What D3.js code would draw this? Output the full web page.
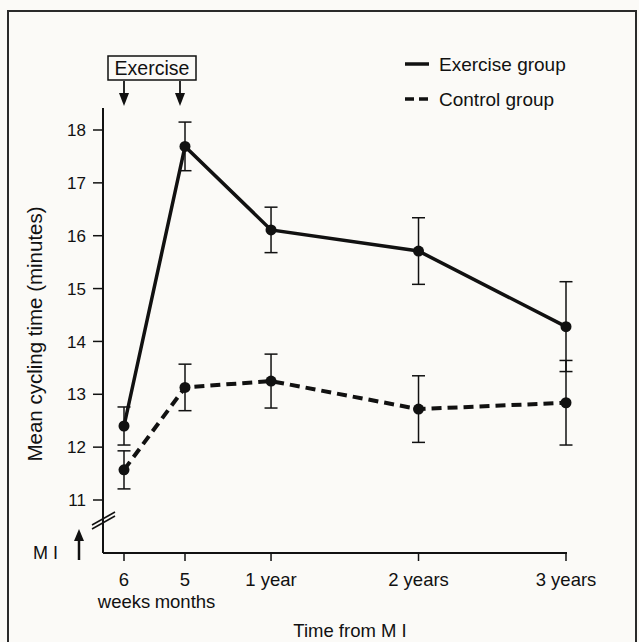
<!DOCTYPE html>
<html>
<head>
<meta charset="utf-8">
<script src="https://cdn.jsdelivr.net/npm/d3@7"></script>
<style>
  html, body { margin: 0; padding: 0; background: #fbfaf7; }
  text { font-family: "Liberation Sans", Arial, sans-serif; fill: #111; }
</style>
</head>
<body>
<div id="chart"></div>
<script>
// data
const tickLabels = ["6", "5", "1 year", "2 years", "3 years"];
const subLabels = ["weeks", "months", "", "", ""];
const timeMonths = [1.5, 5, 12, 24, 36];
const exerciseMean = [12.40, 17.69, 16.11, 15.71, 14.28];
const exerciseErr = [0.36, 0.46, 0.43, 0.63, 0.85];
const controlMean = [11.57, 13.13, 13.25, 12.72, 12.84];
const controlErr = [0.36, 0.44, 0.51, 0.63, 0.80];
const yTicks = [11, 12, 13, 14, 15, 16, 17, 18];

const W = 639, H = 642;
const axisX = 103, axisY = 553, axisTop = 108;

const svg = d3.select("#chart").append("svg")
  .attr("width", W).attr("height", H);

// frame
svg.append("rect")
  .attr("x", 8).attr("y", 11).attr("width", 628).attr("height", 700)
  .attr("fill", "none").attr("stroke", "#2a2a2a").attr("stroke-width", 2);

// x is piecewise: the first interval is stretched in the original
const x = d3.scaleLinear()
  .domain([timeMonths[0], timeMonths[1], timeMonths[4]])
  .range([124, 185, 566]);
const y = d3.scaleLinear().domain([11, 18]).range([500, 130]);

// axes
svg.append("line").attr("x1", axisX).attr("x2", axisX)
  .attr("y1", axisTop).attr("y2", axisY)
  .attr("stroke", "#111").attr("stroke-width", 2);
svg.append("line").attr("x1", axisX).attr("x2", x(timeMonths[4]) + 1)
  .attr("y1", axisY).attr("y2", axisY)
  .attr("stroke", "#111").attr("stroke-width", 2);

// y ticks
const yt = svg.append("g").selectAll("g").data(yTicks).join("g")
  .attr("transform", d => `translate(0,${y(d)})`);
yt.append("line").attr("x1", axisX - 10).attr("x2", axisX)
  .attr("stroke", "#111").attr("stroke-width", 1.5);
yt.append("text").attr("x", axisX - 17).attr("dy", "0.36em")
  .attr("text-anchor", "end").style("font-size", "17px").text(d => d);

// axis break
[0, -4].forEach(off => {
  svg.append("line")
    .attr("x1", 92).attr("y1", 529 + off).attr("x2", 115).attr("y2", 516 + off)
    .attr("stroke", "#111").attr("stroke-width", 1.5);
});

// x ticks
const xt = svg.append("g").selectAll("g").data(timeMonths).join("g")
  .attr("transform", d => `translate(${x(d)},0)`);
xt.append("line").attr("y1", axisY).attr("y2", axisY + 8)
  .attr("stroke", "#111").attr("stroke-width", 1.5);
xt.append("text").attr("y", 586).attr("text-anchor", "middle")
  .style("font-size", "18.5px").text((d, i) => tickLabels[i]);
xt.append("text").attr("y", 608).attr("text-anchor", "middle")
  .style("font-size", "18.5px").text((d, i) => subLabels[i]);

// axis titles
svg.append("text")
  .attr("transform", `translate(42,334) rotate(-90)`)
  .attr("text-anchor", "middle").style("font-size", "20.5px")
  .text("Mean cycling time (minutes)");
svg.append("text").attr("x", 350).attr("y", 637)
  .attr("text-anchor", "middle").style("font-size", "18.5px")
  .text("Time from M I");

// M I marker
svg.append("text").attr("x", 33).attr("y", 559).style("font-size", "18px").text("M I");
svg.append("line").attr("x1", 79).attr("x2", 79).attr("y1", 560).attr("y2", 538)
  .attr("stroke", "#111").attr("stroke-width", 2.5);
svg.append("path").attr("d", "M79,529 L74,541 L84,541 Z").attr("fill", "#111");

// Exercise box with arrows
svg.append("rect").attr("x", 108).attr("y", 56).attr("width", 88).attr("height", 24)
  .attr("fill", "none").attr("stroke", "#111").attr("stroke-width", 1.5);
svg.append("text").attr("x", 152).attr("y", 75).attr("text-anchor", "middle")
  .style("font-size", "19.5px").text("Exercise");
[x(timeMonths[0]), x(timeMonths[1]) - 5].forEach(ax => {
  svg.append("line").attr("x1", ax).attr("x2", ax).attr("y1", 81).attr("y2", 96)
    .attr("stroke", "#111").attr("stroke-width", 1.8);
  svg.append("path").attr("d", `M${ax},106 L${ax - 5},93 L${ax + 5},93 Z`).attr("fill", "#111");
});

// series
function drawSeries(mean, err, dash) {
  const pts = timeMonths.map((t, i) => ({ t, m: mean[i], e: err[i] }));
  const g = svg.append("g");
  g.selectAll("g.err").data(pts).join("g").attr("class", "err")
    .each(function (d) {
      const s = d3.select(this);
      const cx = x(d.t);
      s.append("line").attr("x1", cx).attr("x2", cx)
        .attr("y1", y(d.m - d.e)).attr("y2", y(d.m + d.e));
      [d.m - d.e, d.m + d.e].forEach(v => s.append("line")
        .attr("x1", cx - 6.5).attr("x2", cx + 6.5).attr("y1", y(v)).attr("y2", y(v)));
    })
    .attr("stroke", "#111").attr("stroke-width", 1.5);
  g.append("path").datum(pts)
    .attr("d", d3.line().x(d => x(d.t)).y(d => y(d.m)))
    .attr("fill", "none").attr("stroke", "#111").attr("stroke-width", dash ? 4 : 3.5)
    .attr("stroke-dasharray", dash ? "10,6" : null);
  g.selectAll("circle").data(pts).join("circle")
    .attr("cx", d => x(d.t)).attr("cy", d => y(d.m)).attr("r", 5.5).attr("fill", "#111");
}
drawSeries(exerciseMean, exerciseErr, false);
drawSeries(controlMean, controlErr, true);

// legend
const legend = [
  { label: "Exercise group", dash: null, yy: 64 },
  { label: "Control group", dash: "9,5", yy: 99 }
];
legend.forEach(l => {
  svg.append("line").attr("x1", 405).attr("x2", 429).attr("y1", l.yy).attr("y2", l.yy)
    .attr("stroke", "#111").attr("stroke-width", 3.5).attr("stroke-dasharray", l.dash);
  svg.append("text").attr("x", 439).attr("y", l.yy + 7).style("font-size", "19px").text(l.label);
});
</script>
</body>
</html>
